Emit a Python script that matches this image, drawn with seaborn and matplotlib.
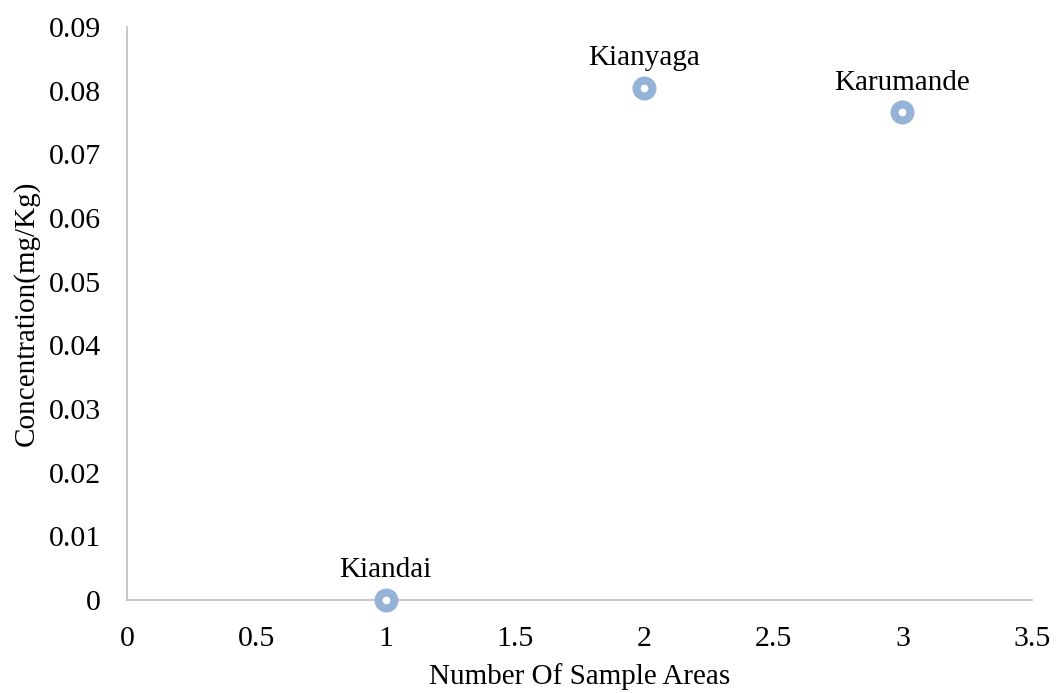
import numpy as np
import pandas as pd
import matplotlib
matplotlib.use("Agg")
import matplotlib.pyplot as plt
import seaborn as sns

# data
areas = ["Kiandai", "Kianyaga", "Karumande"]
sample_no = [1, 2, 3]
concentration = [0.0, 0.0804, 0.0766]

df = pd.DataFrame({"area": areas, "x": sample_no, "y": concentration})

sns.set_style("white")
plt.rcParams["font.family"] = ["Liberation Serif", "DejaVu Serif"]
plt.rcParams["text.color"] = "black"
plt.rcParams["axes.labelcolor"] = "black"
plt.rcParams["xtick.color"] = "black"
plt.rcParams["ytick.color"] = "black"

fig = plt.figure(figsize=(10.56, 6.93), dpi=100)
ax = fig.add_axes([0.1203, 0.1342, 0.977 - 0.1203, 0.961 - 0.1342])

sns.scatterplot(data=df, x="x", y="y", ax=ax, s=132, color="white",
                edgecolor="#95B3D7", linewidth=5.8, zorder=3, clip_on=False)

for _, r in df.iterrows():
    ax.annotate(r["area"], (r["x"], r["y"]), xytext=(0, 12), textcoords="offset points",
                ha="center", va="bottom", fontsize=21)

ax.set_xlim(0, 3.5)
ax.set_ylim(0, 0.09)
ax.set_xticks(np.arange(0, 3.51, 0.5))
ax.set_xticklabels(["0", "0.5", "1", "1.5", "2", "2.5", "3", "3.5"])
ax.set_yticks(np.arange(0, 0.0901, 0.01))
ax.set_yticklabels(["0"] + ["%.2f" % v for v in np.arange(0.01, 0.0901, 0.01)])
ax.tick_params(axis="y", labelsize=21.5, length=0, pad=19)
ax.tick_params(axis="x", labelsize=21.5, length=0, pad=19)

ax.set_xlabel("Number Of Sample Areas", fontsize=21, labelpad=8)
ax.set_ylabel("Concentration(mg/Kg)", fontsize=21, labelpad=6.5)

for s in ["top", "right"]:
    ax.spines[s].set_visible(False)
for s in ["left", "bottom"]:
    ax.spines[s].set_color("#BFBFBF")
    ax.spines[s].set_linewidth(1.2)

fig.savefig("out.png", dpi=100)
